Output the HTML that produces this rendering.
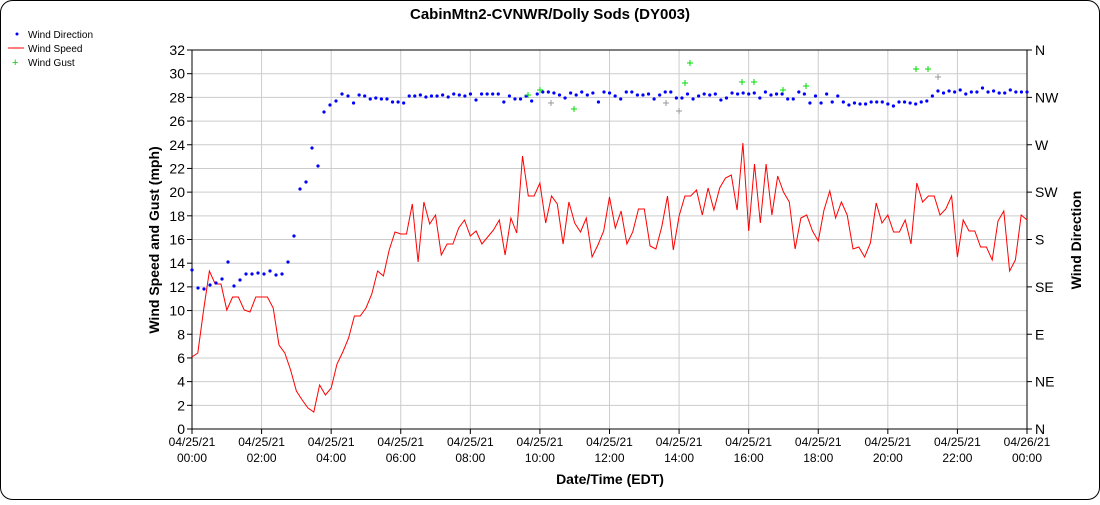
<!DOCTYPE html>
<html><head><meta charset="utf-8"><style>
body{margin:0;background:#fff;font-family:"Liberation Sans",Arial,sans-serif}
</style></head><body>
<svg id="s" width="1100" height="500" xmlns="http://www.w3.org/2000/svg" font-family="Liberation Sans, Arial, sans-serif">
<rect x="0.5" y="0.5" width="1099" height="499" rx="12" fill="#fff" stroke="#000"/>
<text x="550" y="19" text-anchor="middle" font-size="15" font-weight="bold">CabinMtn2-CVNWR/Dolly Sods (DY003)</text>
<circle cx="17" cy="34" r="1.5" fill="#00f"/><text x="28" y="38" font-size="10">Wind Direction</text>
<line x1="8" y1="48" x2="24" y2="48" stroke="#f00"/><text x="28" y="52" font-size="10">Wind Speed</text>
<text x="12" y="66" font-size="11" fill="#0c0">+</text><text x="28" y="66" font-size="10">Wind Gust</text>
<g id="grid" stroke="#ccc" stroke-width="1"></g>
<g id="ax"></g>
<text transform="translate(159,240) rotate(-90)" text-anchor="middle" font-size="14" font-weight="bold">Wind Speed and Gust (mph)</text>
<text transform="translate(1081,240) rotate(-90)" text-anchor="middle" font-size="14" font-weight="bold">Wind Direction</text>
<text x="610" y="484" text-anchor="middle" font-size="14" font-weight="bold">Date/Time (EDT)</text>
<g id="data"></g>
</svg>
<script>
var NS="http://www.w3.org/2000/svg",X0=192,X1=1027,Y0=429,Y1=50;
function el(p,t,a,tx){var e=document.createElementNS(NS,t);for(var k in a)e.setAttribute(k,a[k]);if(tx!=null)e.textContent=tx;document.getElementById(p).appendChild(e);return e;}
for(var v=0;v<=32;v+=2){var y=Y0-(Y0-Y1)*v/32;if(v>0)el('grid','line',{x1:X0,x2:X1,y1:y,y2:y});
el('ax','line',{x1:X0-5,x2:X0,y1:y,y2:y,stroke:'#000'});el('ax','text',{x:X0-7,y:y+5,'text-anchor':'end','font-size':14},v);}
var dirs=['N','NE','E','SE','S','SW','W','NW','N'];
for(var i=0;i<9;i++){var y=Y0-(Y0-Y1)*i/8;el('ax','line',{x1:X1,x2:X1+5,y1:y,y2:y,stroke:'#000'});el('ax','text',{x:X1+8,y:y+5,'font-size':14},dirs[8-i]==dirs[8-i]?dirs[i]:'');}
for(var h=0;h<=12;h++){var x=X0+(X1-X0)*h/12;if(h>0&&h<12)el('grid','line',{x1:x,x2:x,y1:Y1,y2:Y0});
el('ax','line',{x1:x,x2:x,y1:Y0,y2:Y0+5,stroke:'#000'});
el('ax','text',{x:x,y:446,'text-anchor':'middle','font-size':12},h==12?'04/26/21':'04/25/21');
el('ax','text',{x:x,y:462,'text-anchor':'middle','font-size':12},(h==12?'00':('0'+2*h).slice(-2))+':00');}
el('ax','line',{x1:X0,x2:X0,y1:Y1,y2:Y0,stroke:'#000'});el('ax','line',{x1:X1,x2:X1,y1:Y1,y2:Y0,stroke:'#000'});
el('ax','line',{x1:X0,x2:X1,y1:Y0,y2:Y0,stroke:'#000'});el('ax','line',{x1:X0,x2:X1,y1:Y1,y2:Y1,stroke:'#000'});
var sp=[357,353,310,271,284,284,310,297,297,310,312,297,297,297,308,345,353,370,391,400,408,412,385,395,388,364,352,338,316,316,308,294,271,276,250,232,234,234,204,262,202,224,215,255,244,244,228,220,236,231,244,237,230,220,255,218,233,156,196,196,183,223,196,204,244,202,223,232,218,257,245,231,197,228,211,244,232,209,209,246,249,227,196,250,216,196,196,190,215,188,210,188,178,175,210,143,231,164,223,164,215,176,192,202,249,218,215,231,241,210,191,218,202,215,249,247,257,243,203,223,215,232,232,220,244,183,202,196,196,215,209,196,257,220,231,231,247,247,260,221,211,271,260,215,220];
var st=(X1-X0)/(sp.length-1),pts=[];for(var i=0;i<sp.length;i++)pts.push((X0+i*st).toFixed(1)+','+sp[i]);
el('data','polyline',{points:pts.join(' '),fill:'none',stroke:'#f00','stroke-width':1});
var d1=[[192,270],[198,288],[204,289],[210,285],[216,283],[222,279],[228,262],[234,286],[240,280],[246,274],[252,274],[258,273],[264,274],[270,271],[276,275],[282,274],[288,262],[294,236],[300,189],[306,182],[312,148],[318,166],[324,112],[330,105],[336,101],[342,94]];
var d2=[96,103,95,96,99,98,99,99,102,102,103,96,96,95,97,96,96,95,97,94,95,96,94,100,94,94,94,94,102,96,99,99,96,101,94,92,92,93,95,98,93,95,92,95,93,102,92,93,96,99,92,92,95,95,94,99,95,92,92,98,98,94,99,96,94,95,94,100,98,93,94,93,94,93,98,92,95,94,94,99,99,92,94,103,96,103,94,102,96,102,105,103,104,104,102,102,102,104,106,102,102,103,104,102,101,96,91,93,91,92,90,94,92,92,88,92,91,93,93,90,92,92,92];
var ds=(X1-348)/(d2.length-1);for(var i=0;i<d2.length;i++)d1.push([348+i*ds,d2[i]]);
d1.forEach(function(p){el('data','circle',{cx:p[0],cy:p[1],r:1.6,fill:'#00f'});});
var g=[[528,95],[540,90],[551,103,1],[574,109],[666,103,1],[679,111,1],[685,83],[690,63],[742,82],[754,82],[783,90],[806,86],[916,69],[928,69],[938,77,1]];
g.forEach(function(p){var c=p[2]?'#999':'#0d0';el('data','line',{x1:p[0]-3,x2:p[0]+3,y1:p[1],y2:p[1],stroke:c});el('data','line',{x1:p[0],x2:p[0],y1:p[1]-3,y2:p[1]+3,stroke:c});});
</script>
</body></html>
